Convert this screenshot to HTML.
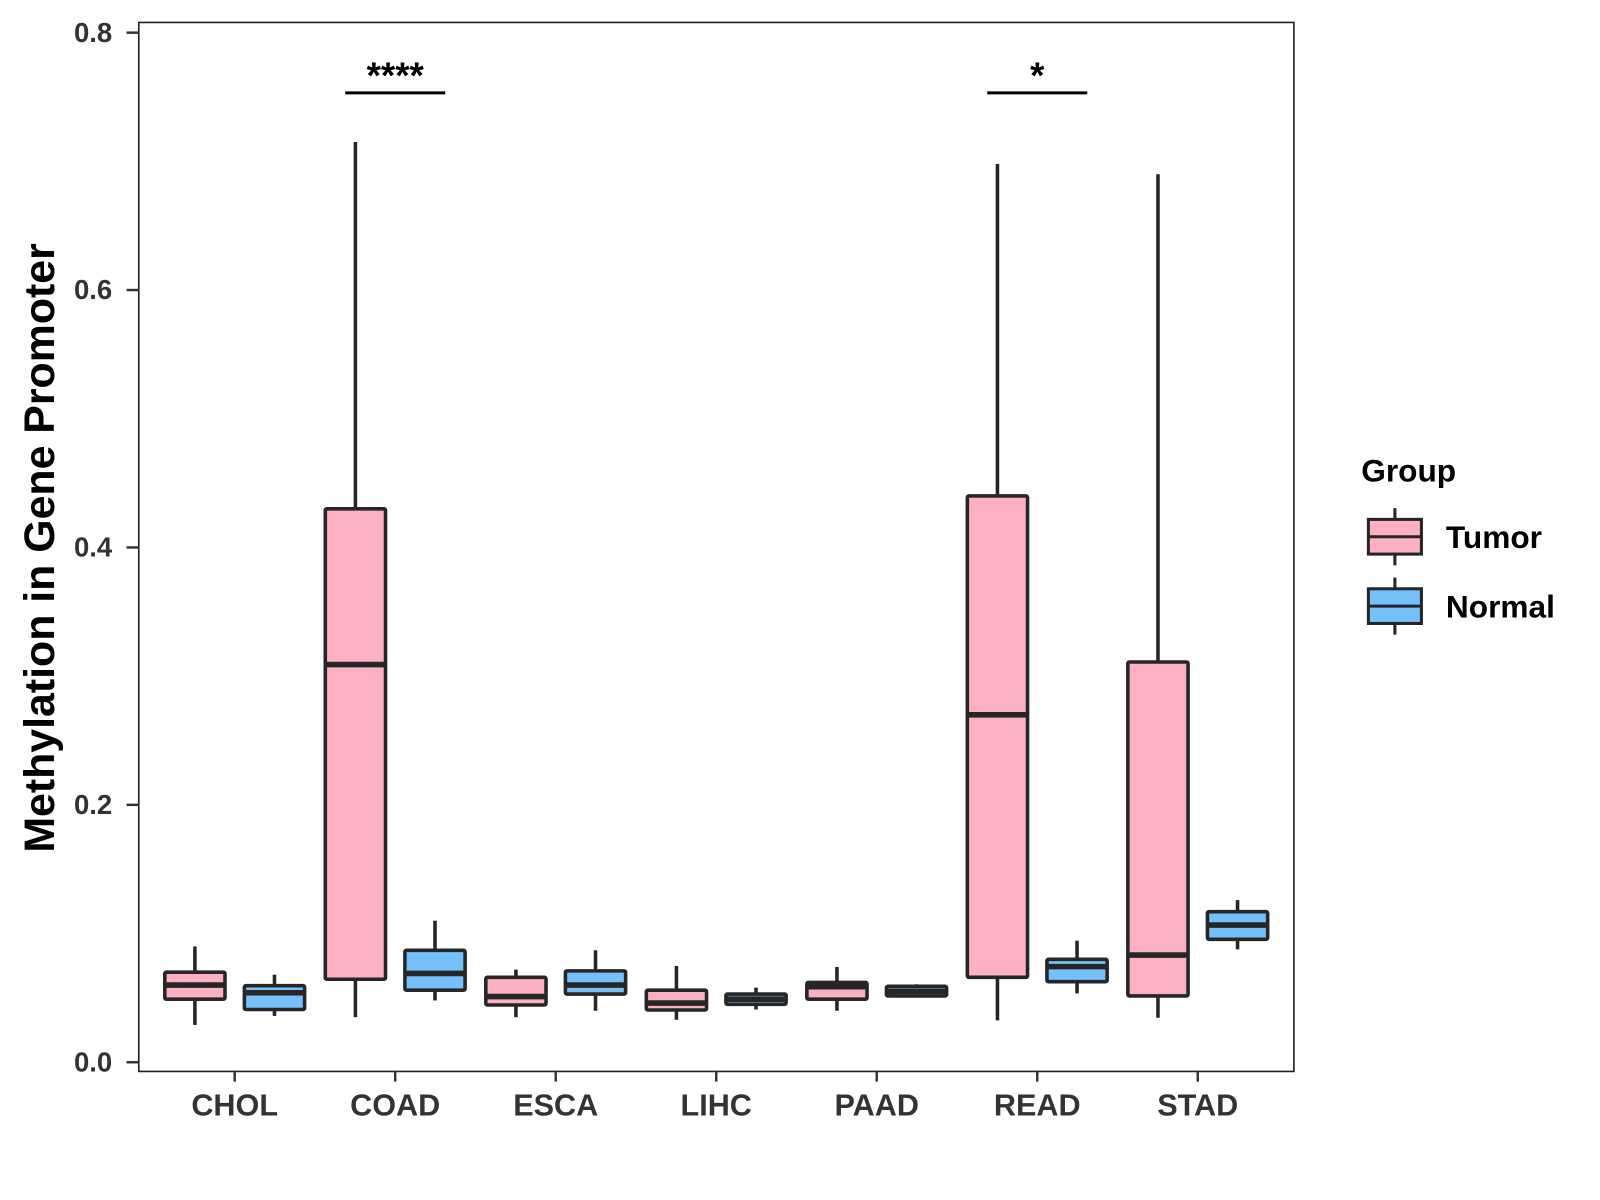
<!DOCTYPE html>
<html><head><meta charset="utf-8"><style>html,body{margin:0;padding:0;background:#fff}svg{display:block}</style></head>
<body>
<svg id="chart" width="1600" height="1200" viewBox="0 0 1568 1176" xmlns="http://www.w3.org/2000/svg" font-family="Liberation Sans, sans-serif"></svg>
<script>
const categories = ["CHOL","COAD","ESCA","LIHC","PAAD","READ","STAD"];
// [low, q1, median, q3, high]
const tumorStats = [
  [0.029,0.049,0.060,0.070,0.090],
  [0.035,0.0645,0.309,0.430,0.715],
  [0.035,0.0445,0.051,0.066,0.072],
  [0.033,0.0406,0.046,0.056,0.0748],
  [0.040,0.049,0.0587,0.062,0.074],
  [0.0325,0.066,0.270,0.440,0.698],
  [0.0346,0.0515,0.0833,0.311,0.690]
];
const normalStats = [
  [0.036,0.041,0.054,0.0595,0.068],
  [0.048,0.056,0.069,0.087,0.110],
  [0.040,0.053,0.060,0.071,0.087],
  [0.041,0.045,0.049,0.053,0.058],
  [0.051,0.0515,0.055,0.059,0.0606],
  [0.0535,0.0626,0.0743,0.080,0.0945],
  [0.0877,0.0955,0.1066,0.117,0.126]
];
const yTicks = [0.0,0.2,0.4,0.6,0.8];
const yTickLabels = ["0.0","0.2","0.4","0.6","0.8"];
const sigCategories = ["COAD","READ"];
const sigLabels = ["****","*"];

const svg = document.getElementById('chart');
const NS = "http://www.w3.org/2000/svg";
const X0=136, X1=1268, Y0=22, Y1=1050;
const yS = v => 1041 - v*1261.25;
const xS = i => 230 + i*157.3;
function mk(tag, attrs, parent){const e=document.createElementNS(NS,tag);for(const k in attrs)e.setAttribute(k,attrs[k]);(parent||svg).appendChild(e);return e;}

const frame = mk('rect',{x:X0,y:Y0,width:X1-X0,height:Y1-Y0,fill:'none',stroke:'#222','stroke-width':1.6});



yTicks.forEach((t,i)=>{
  const y=yS(t);
  const tk=mk('line',{x1:X0-12,x2:X0,y1:y,y2:y,stroke:'#333','stroke-width':2.4});
  
  
  const tl=mk('text',{x:X0-26,y:y+9,'text-anchor':'end','font-size':27,'font-weight':'bold',fill:'#333'});
  tl.textContent=yTickLabels[i];
  
  
});
categories.forEach((c,i)=>{
  const x=xS(i);
  const tk=mk('line',{x1:x,x2:x,y1:Y1,y2:Y1+10,stroke:'#333','stroke-width':2.4});
  
  
  const tl=mk('text',{x:x,y:1093,'text-anchor':'middle','font-size':30,'font-weight':'bold',fill:'#333'});
  tl.textContent=c;
  
  
});

function drawBox(cx, s, fill, name){
  const g=mk('g',{});
  
  
  const w=59;
  mk('line',{x1:cx,x2:cx,y1:yS(s[4]),y2:yS(s[3]),stroke:'#262626','stroke-width':3.5},g);
  mk('line',{x1:cx,x2:cx,y1:yS(s[1]),y2:yS(s[0]),stroke:'#262626','stroke-width':3.5},g);
  mk('rect',{x:cx-w/2,y:yS(s[3]),width:w,height:yS(s[1])-yS(s[3]),fill:fill,stroke:'#262626','stroke-width':3.5,rx:1.5},g);
  mk('line',{x1:cx-w/2,x2:cx+w/2,y1:yS(s[2]),y2:yS(s[2]),stroke:'#262626','stroke-width':5.5},g);
}
categories.forEach((c,i)=>{
  drawBox(xS(i)-39, tumorStats[i], '#FCB0C2', 'box-tumor-'+c.toLowerCase());
  drawBox(xS(i)+39, normalStats[i], '#74C0F9', 'box-normal-'+c.toLowerCase());
});

sigCategories.forEach((c,k)=>{
  const i=categories.indexOf(c), x=xS(i);
  const ln=mk('line',{x1:x-49,x2:x+49,y1:91,y2:91,stroke:'#000','stroke-width':3});
  
  
  const t=mk('text',{x:x,y:86,'text-anchor':'middle','font-size':36,'font-weight':'bold',fill:'#000'});
  t.textContent=sigLabels[k];
  
  
});

const yt=mk('text',{x:0,y:0,transform:'translate(53,537) rotate(-90)','text-anchor':'middle','font-size':42,'font-weight':'bold',fill:'#000'});
yt.textContent='Methylation in Gene Promoter';



const lt=mk('text',{x:1334,y:472,'font-size':31,'font-weight':'bold',fill:'#000'});
lt.textContent='Group';


[['Tumor','#FCB0C2',526],['Normal','#74C0F9',594]].forEach(([lab,col,cy])=>{
  const g=mk('g',{});
  
  
  mk('line',{x1:1367,x2:1367,y1:cy-28,y2:cy+28,stroke:'#262626','stroke-width':3},g);
  mk('rect',{x:1341,y:cy-17,width:52,height:34,fill:col,stroke:'#262626','stroke-width':3},g);
  mk('line',{x1:1341,x2:1393,y1:cy,y2:cy,stroke:'#262626','stroke-width':3},g);
  const t=mk('text',{x:1417,y:cy+11,'font-size':31,'font-weight':'bold',fill:'#000'},g);
  t.textContent=lab;
});
</script>
</body></html>
